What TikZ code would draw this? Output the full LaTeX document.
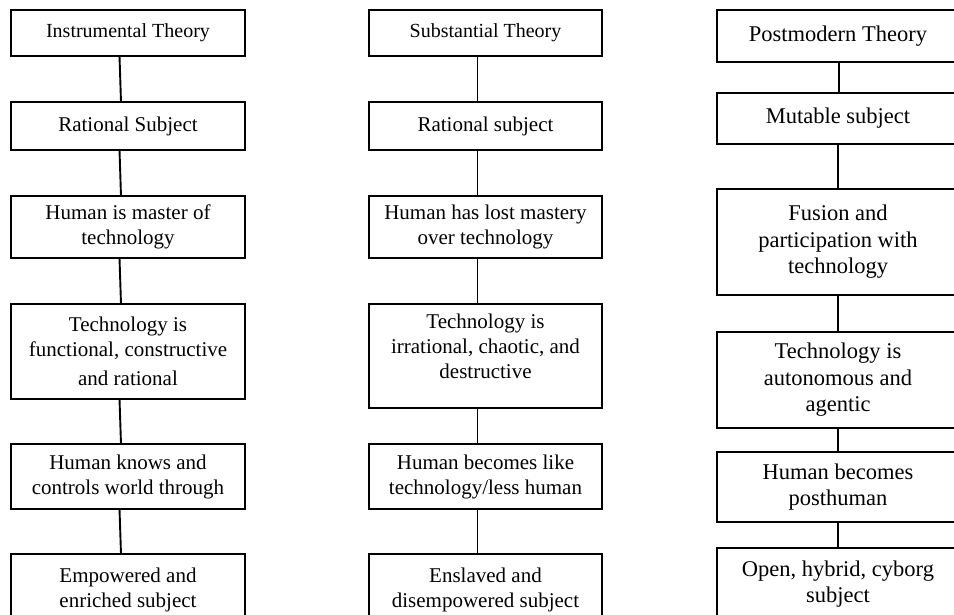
\documentclass[tikz,border=0pt]{standalone}
\usepackage{fontspec}
\setmainfont{Liberation Serif}
\usetikzlibrary{positioning}

\begin{document}
\begin{tikzpicture}[x=1pt, y=-1pt,
		    box/.style={draw, rectangle, line width=1.9pt, outer sep=0pt,
			   align=center, inner sep=2pt,
			   font=\fontsize{21}{25}\selectfont},
		    leftcol/.style={box, minimum width=234pt},
		    midcol/.style={box, minimum width=233pt},
		    rightcol/.style={box, minimum width=242pt,
			   font=\fontsize{22.5}{26.5}\selectfont},
		    theory/.style={font=\fontsize{20}{24}\selectfont},
		    link/.style={draw, line width=1.9pt},
		    node distance=46pt]
 \useasboundingbox (0,0) rectangle (954,614);
 \clip (0,0) rectangle (954,614);

 % instrumental theory
 \node [leftcol, theory, anchor=north, minimum height=46pt] (it1) at (128,10) {Instrumental Theory};
 \node [leftcol, below=of it1, minimum height=48pt] (it2) {Rational Subject};
 \node [leftcol, below=of it2, minimum height=62pt] (it3) {Human is master of\\technology};
 \node [leftcol, below=of it3, minimum height=95pt] (it4) {Technology is\\functional, constructive\\[4pt]and rational};
 \node [leftcol, below=45pt of it4, minimum height=65pt] (it5) {Human knows and\\controls world through};
 \node [leftcol, below=45pt of it5, minimum height=72pt] (it6) {Empowered and\\enriched subject};

 % substantial theory
 \node [midcol, theory, anchor=north, minimum height=46pt] (st1) at (485.5,10) {Substantial Theory};
 \node [midcol, below=of st1, minimum height=48pt] (st2) {Rational subject};
 \node [midcol, below=of st2, minimum height=62pt] (st3) {Human has lost mastery\\over technology};
 \node [midcol, below=of st3, minimum height=104pt] (st4) {Technology is\\irrational, chaotic, and\\destructive\\[-6pt]\mbox{}};
 \node [midcol, below=36pt of st4, minimum height=65pt] (st5) {Human becomes like\\technology/less human};
 \node [midcol, below=45pt of st5, minimum height=72pt] (st6) {Enslaved and\\disempowered subject};

 % postmodern theory
 \node [rightcol, anchor=north, minimum height=52pt] (pt1) at (838,10) {Postmodern Theory};
 \node [rightcol, below=31pt of pt1, minimum height=51pt] (pt2) {Mutable subject};
 \node [rightcol, below=45pt of pt2, minimum height=106pt] (pt3) {Fusion and\\participation with\\technology};
 \node [rightcol, below=37pt of pt3, minimum height=96pt] (pt4) {Technology is\\autonomous and\\agentic};
 \node [rightcol, below=24pt of pt4, minimum height=70pt] (pt5) {Human becomes\\posthuman};
 \node [rightcol, below=26pt of pt5, minimum height=72pt] (pt6) {Open, hybrid, cyborg\\subject};

 \draw [link] ([xshift=-8.5pt]it1.south) -- ([xshift=-7pt]it2.north)
	      ([xshift=-8.5pt]it2.south) -- ([xshift=-7pt]it3.north)
	      ([xshift=-8.5pt]it3.south) -- ([xshift=-7pt]it4.north)
	      ([xshift=-8.5pt]it4.south) -- ([xshift=-7pt]it5.north)
	      ([xshift=-8.5pt]it5.south) -- ([xshift=-7pt]it6.north);
 \draw [link] ([xshift=-8pt]st1.south) -- ([xshift=-8pt]st2.north)
	      ([xshift=-8pt]st2.south) -- ([xshift=-8pt]st3.north)
	      ([xshift=-8pt]st3.south) -- ([xshift=-8pt]st4.north)
	      ([xshift=-8pt]st4.south) -- ([xshift=-8pt]st5.north)
	      ([xshift=-8pt]st5.south) -- ([xshift=-8pt]st6.north);
 \draw [link] ([xshift=1pt]pt1.south) -- ([xshift=1pt]pt2.north)
	      (pt2) -- (pt3) (pt3) -- (pt4) (pt4) -- (pt5) (pt5) -- (pt6);
\end{tikzpicture}
\end{document}
